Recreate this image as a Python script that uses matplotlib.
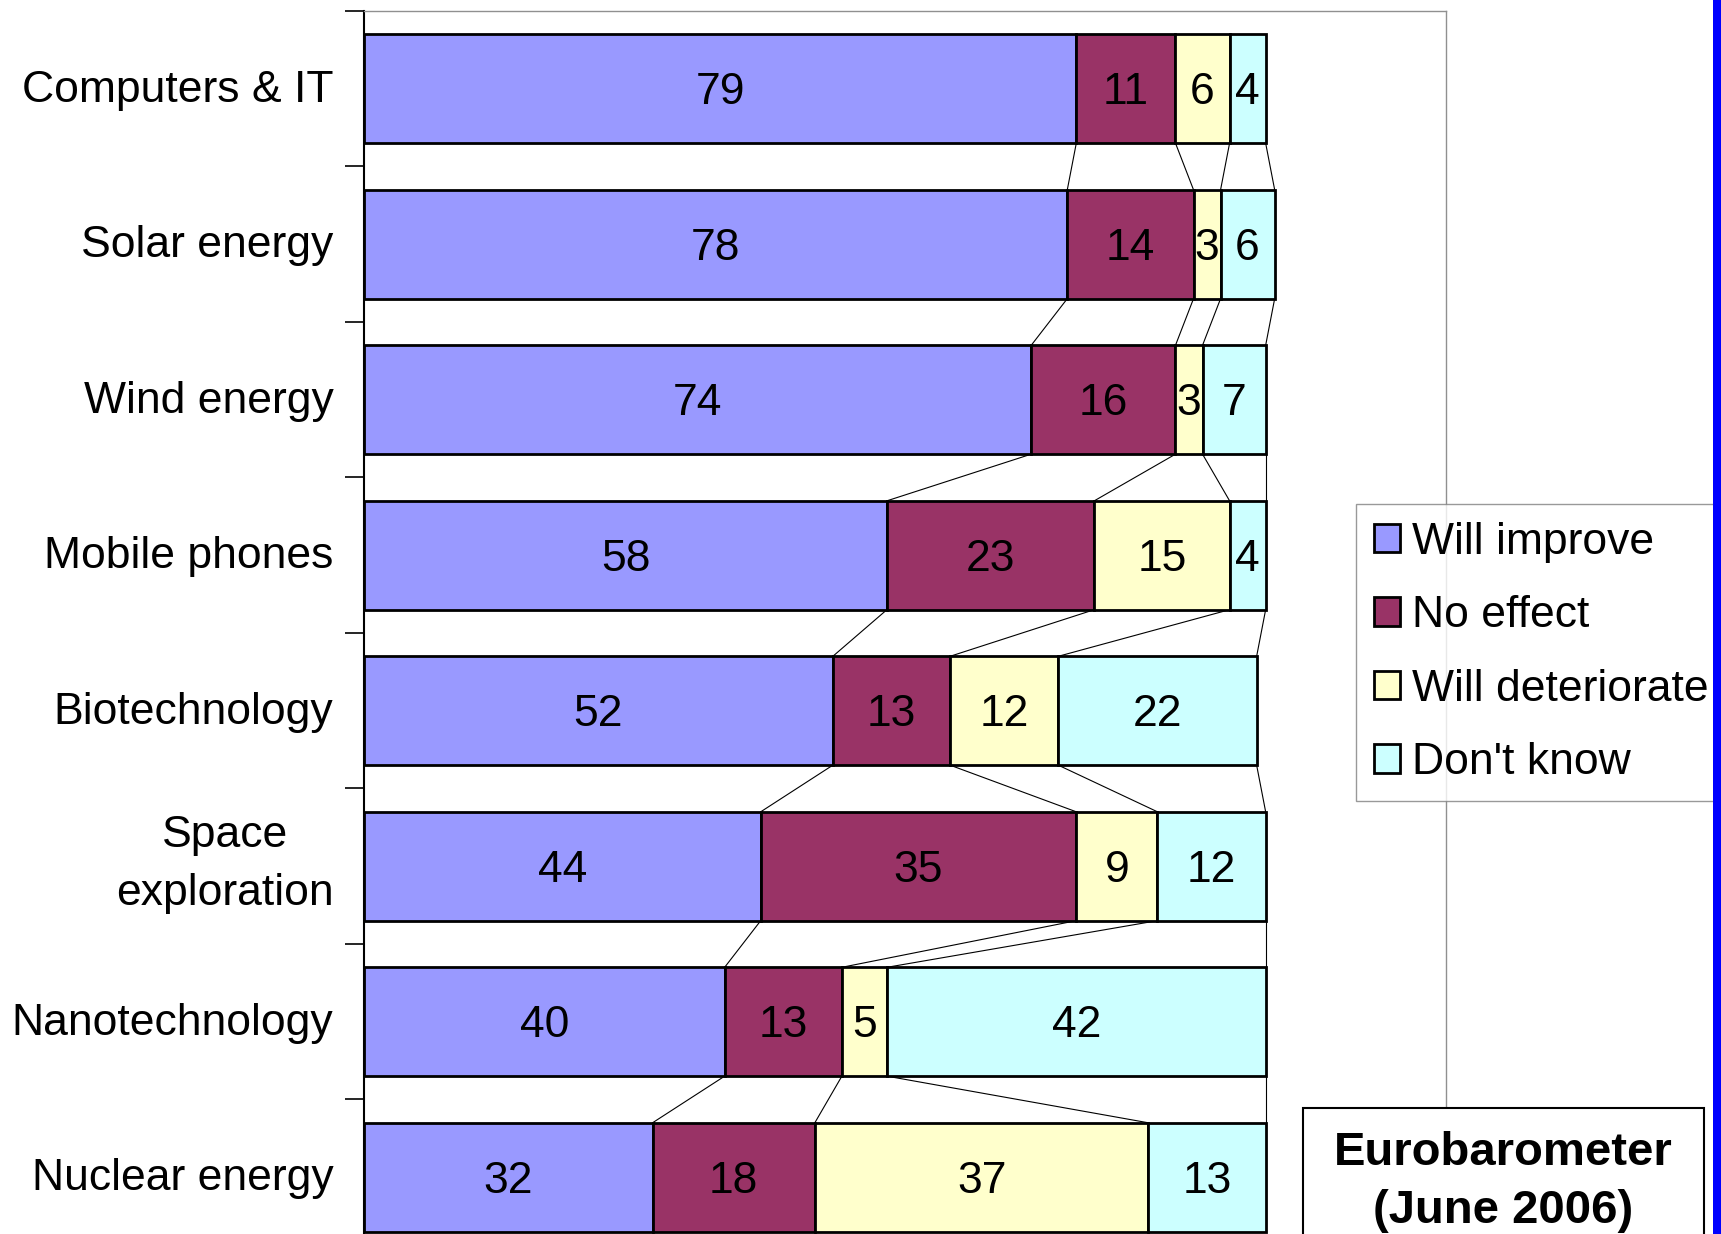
import numpy as np
import matplotlib
matplotlib.use("Agg")
import matplotlib.pyplot as plt
from matplotlib.patches import Patch, Rectangle

plt.rcParams['font.family'] = ['Liberation Sans', 'DejaVu Sans']

categories = ["Computers & IT", "Solar energy", "Wind energy", "Mobile phones",
              "Biotechnology", "Space\nexploration", "Nanotechnology", "Nuclear energy"]
series_names = ["Will improve", "No effect", "Will deteriorate", "Don't know"]
will_improve = [79, 78, 74, 58, 52, 44, 40, 32]
no_effect = [11, 14, 16, 23, 13, 35, 13, 18]
will_deteriorate = [6, 3, 3, 15, 12, 9, 5, 37]
dont_know = [4, 6, 7, 4, 22, 12, 42, 13]
colors = ["#9999FF", "#993366", "#FFFFCC", "#CCFFFF"]

values = np.array([will_improve, no_effect, will_deteriorate, dont_know])  # [4, 8]
bar_h = 0.7
fs = 32

fig = plt.figure(figsize=(17.21, 12.34), dpi=100)
ax = fig.add_axes([0.2115, -0.017, 0.8402 - 0.2115, 0.9911 + 0.017])

y = np.arange(len(categories))
left = np.zeros(len(categories))
for k in range(4):
    ax.barh(y, values[k], left=left, height=bar_h, color=colors[k],
            edgecolor="black", linewidth=2, zorder=3)
    for i in range(len(categories)):
        ax.text(left[i] + values[k][i] / 2, y[i] + 0.025, str(values[k][i]),
                ha="center", va="center", fontsize=fs, zorder=4)
    left = left + values[k]

# series lines between bars
cum = np.cumsum(values, axis=0)  # [4, 8]
for k in range(4):
    for i in range(len(categories) - 1):
        ax.plot([cum[k][i], cum[k][i + 1]], [y[i] + bar_h / 2, y[i + 1] - bar_h / 2],
                color="black", linewidth=0.8, zorder=2)

ax.set_xlim(0, 120)
ax.set_ylim(len(categories) - 0.5, -0.5)
ax.set_xticks([])
ax.set_yticks([])
ax.set_yticks(np.arange(len(categories) + 1) - 0.5, minor=True)
ax.tick_params(axis="y", which="minor", length=14, width=1.2, direction="out")

# category labels (drawn by hand so the two-line one sits like the original)
for i, cat in enumerate(categories):
    dy = -0.01 if "\n" in cat else 0.01
    ax.annotate(cat, xy=(0, y[i] + dy), xycoords=ax.get_yaxis_transform(),
                xytext=(-22, 0), textcoords="offset points", ha="right", va="center",
                fontsize=fs, multialignment="center", linespacing=1.55,
                annotation_clip=False)

ax.spines["left"].set_color("black")
ax.spines["left"].set_linewidth(1.5)
for s in ["top", "right"]:
    ax.spines[s].set_color("#909090")
    ax.spines[s].set_linewidth(1)
ax.spines["bottom"].set_visible(False)

handles = [Patch(facecolor=c, edgecolor="black", linewidth=2) for c in colors]
leg = fig.legend(handles, series_names, loc="upper left",
                 bbox_to_anchor=(1356 / 1721, 1 - 504 / 1234), borderaxespad=0,
                 fontsize=fs, frameon=True, fancybox=False, edgecolor="#808080",
                 handlelength=0.6, handleheight=0.6, handletextpad=0.25,
                 labelspacing=0.73, borderpad=0.4)
leg.get_frame().set_linewidth(1)

# source box
fig.patches.append(Rectangle((1303 / 1721, -0.05), (1704 - 1303) / 1721, 1 - 1108 / 1234 + 0.05,
                             transform=fig.transFigure, facecolor="white",
                             edgecolor="black", linewidth=1.5, zorder=6))
fig.text(1503 / 1721, 1 - 1153 / 1234, "Eurobarometer", ha="center", va="center",
         fontsize=34, fontweight="bold", zorder=7)
fig.text(1503 / 1721, 1 - 1211 / 1234, "(June 2006)", ha="center", va="center",
         fontsize=34, fontweight="bold", zorder=7)

# blue band on right edge
fig.patches.append(Rectangle((1713 / 1721, 0), 8 / 1721, 1, transform=fig.transFigure,
                             facecolor="#0000FF", edgecolor="none", zorder=10))

fig.savefig("out.png", dpi=100)
